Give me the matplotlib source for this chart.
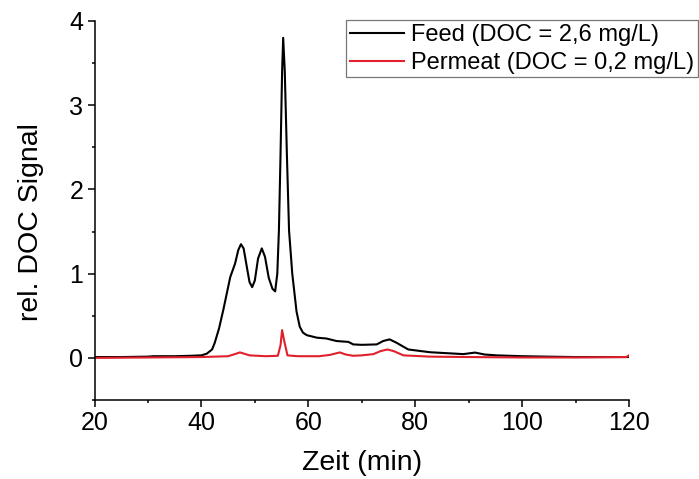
import matplotlib
matplotlib.use("Agg")
import matplotlib.pyplot as plt
from matplotlib.ticker import MultipleLocator

plt.rcParams['font.family'] = ['Liberation Sans', 'DejaVu Sans']

# Feed (DOC = 2,6 mg/L)
feed_x = [20, 25, 30, 31, 35, 38, 40, 41, 42, 42.5, 43.3, 44.1, 44.8, 45.4, 46.3, 46.9,
          47.4, 47.9, 48.5, 49.0, 49.5, 50.0, 50.6, 51.3, 51.9, 52.6, 53.3, 53.8, 54.2,
          54.5, 54.8, 55.1, 55.3, 55.6, 56.0, 56.4, 57.0, 57.8, 58.4, 59.0, 59.7, 61.6,
          63.4, 65.3, 67.5, 68.4, 70, 72.8, 74, 75.2, 76.5, 78.7, 82.8, 89.0, 91.2, 93,
          95.2, 100, 104.6, 110, 115, 120]
feed_y = [0.01, 0.01, 0.015, 0.02, 0.02, 0.025, 0.03, 0.05, 0.10, 0.18, 0.35, 0.57, 0.78,
          0.96, 1.12, 1.28, 1.35, 1.30, 1.08, 0.90, 0.84, 0.92, 1.18, 1.30, 1.20, 0.95,
          0.82, 0.79, 1.00, 1.51, 2.40, 3.40, 3.80, 3.40, 2.40, 1.51, 1.00, 0.55, 0.37,
          0.30, 0.27, 0.24, 0.23, 0.20, 0.19, 0.16, 0.155, 0.16, 0.20, 0.22, 0.18, 0.10,
          0.067, 0.045, 0.063, 0.04, 0.03, 0.02, 0.015, 0.01, 0.01, 0.01]

# Permeat (DOC = 0,2 mg/L)
perm_x = [20, 30, 40, 45, 46.5, 47.2, 48, 49, 52, 54.3, 54.8, 55.1, 55.5, 56.1, 58, 62,
          64, 65.9, 67, 68.4, 70, 72.2, 73.5, 74.8, 76, 77.8, 82.8, 90, 100, 110, 119.5, 120]
perm_y = [0.0, 0.005, 0.01, 0.02, 0.05, 0.065, 0.05, 0.03, 0.02, 0.025, 0.15, 0.33, 0.20,
          0.03, 0.02, 0.02, 0.035, 0.065, 0.04, 0.025, 0.03, 0.045, 0.08, 0.10, 0.08,
          0.03, 0.015, 0.01, 0.005, 0.005, 0.01, 0.03]

labels = ["Feed (DOC = 2,6 mg/L)", "Permeat (DOC = 0,2 mg/L)"]
colors = ["#000000", "#e0202a"]

fig = plt.figure(figsize=(6.99, 4.79), dpi=100)
W, H = 699, 479
ax = fig.add_axes([94.5 / W, 1 - 400 / H, (629 - 94.5) / W, (400 - 21) / H])

ax.plot(feed_x, feed_y, color=colors[0], lw=1.5, label=labels[0])
ax.plot(perm_x, perm_y, color=colors[1], lw=1.5, label=labels[1])

ax.set_xlim(20, 120)
ax.set_ylim(-0.5, 4)
ax.xaxis.set_major_locator(MultipleLocator(20))
ax.xaxis.set_minor_locator(MultipleLocator(10))
ax.yaxis.set_major_locator(MultipleLocator(1))
ax.yaxis.set_minor_locator(MultipleLocator(0.5))
for s in ['top', 'right']:
    ax.spines[s].set_visible(False)
for s in ['left', 'bottom']:
    ax.spines[s].set_linewidth(1.1)
ax.tick_params(which='major', direction='out', length=5, width=1.1, labelsize=18, pad=3)
ax.tick_params(which='minor', direction='out', length=2.5, width=1.1)

fig.text(31 / W, 1 - 222 / H, "rel. DOC Signal", rotation=90, ha='center', va='center', fontsize=20.5)
fig.text(362 / W, 1 - 463 / H, "Zeit (min)", ha='center', va='center', fontsize=20.5)

leg = ax.legend(loc='upper right', bbox_to_anchor=(698 / W, 1 - 20.5 / H),
                bbox_transform=fig.transFigure, fontsize=17, frameon=True, fancybox=False,
                handlelength=2.3, handletextpad=0.3, labelspacing=0.25, borderpad=0.15,
                borderaxespad=0)
leg.get_frame().set_edgecolor('#555555')
leg.get_frame().set_linewidth(0.9)

fig.savefig("out.png", dpi=100)
